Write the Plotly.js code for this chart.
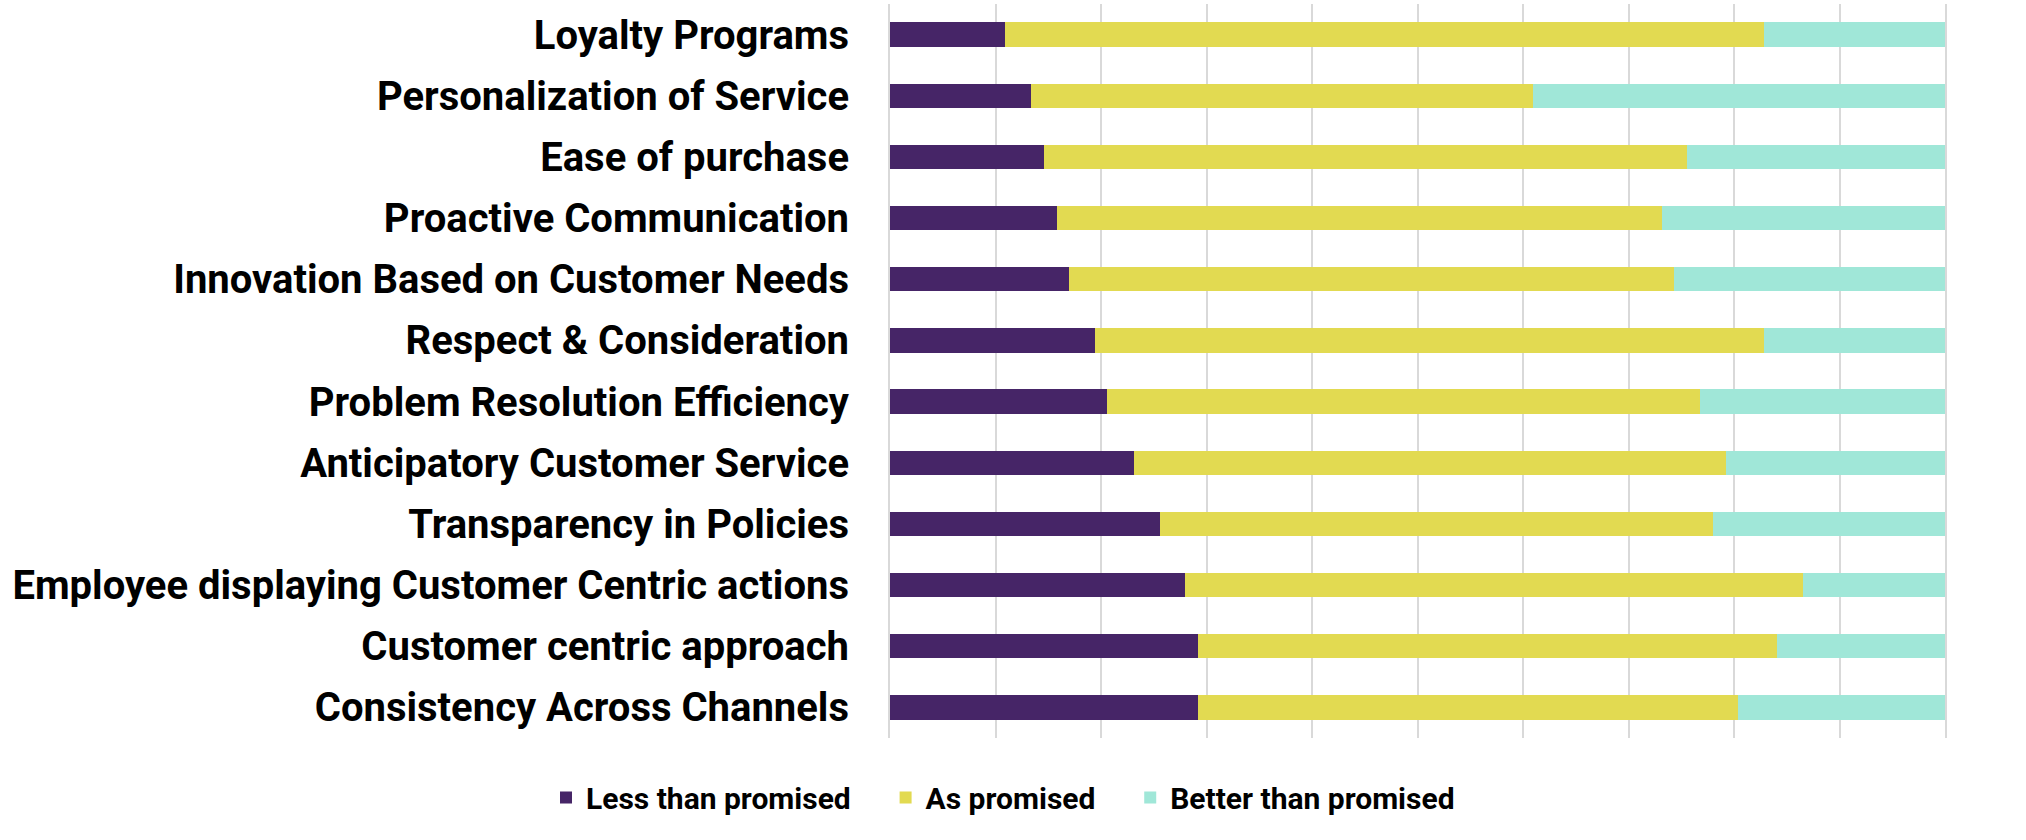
<!DOCTYPE html>
<html>
<head>
<meta charset="utf-8">
<script src="https://cdn.plot.ly/plotly-3.0.1.min.js"></script>
<style>
  html, body { margin: 0; padding: 0; background: #fff; }
  #chart { width: 2026px; height: 840px; }
</style>
</head>
<body>
<div id="chart"></div>
<script>
const categories = [
  'Loyalty Programs',
  'Personalization of Service',
  'Ease of purchase',
  'Proactive Communication',
  'Innovation Based on Customer Needs',
  'Respect & Consideration',
  'Problem Resolution Efficiency',
  'Anticipatory Customer Service',
  'Transparency in Policies',
  'Employee displaying Customer Centric actions',
  'Customer centric approach',
  'Consistency Across Channels'
];

const lessThan = [10.9, 13.4, 14.6, 15.8, 17.0, 19.4, 20.6, 23.1, 25.6, 28.0, 29.2, 29.2];
const asPromised = [71.9, 47.5, 60.9, 57.4, 57.3, 63.4, 56.2, 56.1, 52.4, 58.5, 54.9, 51.2];
const betterThan = [17.2, 39.1, 24.5, 26.8, 25.7, 17.2, 23.2, 20.8, 22.0, 13.5, 15.9, 19.6];

const seriesNames = ['Less than promised', 'As promised', 'Better than promised'];
const seriesColors = ['#462567', '#e2da51', '#a0e7d8'];

// extra room after the first two legend entries
const legendPad = '\u00a0\u00a0\u00a0\u00a0';

function makeTrace(values, i) {
  return {
    type: 'bar',
    orientation: 'h',
    y: categories,
    x: values,
    name: seriesNames[i] + (i < 2 ? legendPad : ''),
    marker: { color: seriesColors[i], line: { width: 0 } },
    hoverinfo: 'x+name'
  };
}

const data = [lessThan, asPromised, betterThan].map(makeTrace);

const layout = {
  width: 2026,
  height: 840,
  barmode: 'stack',
  bargap: 0.6,
  paper_bgcolor: '#fff',
  plot_bgcolor: '#fff',
  margin: { l: 890, r: 81, t: 4, b: 102, autoexpand: false },
  font: { family: 'Roboto, sans-serif', color: '#000' },
  xaxis: {
    range: [0, 100],
    dtick: 10,
    showticklabels: false,
    showgrid: true,
    gridcolor: '#d9d9d9',
    gridwidth: 2,
    zeroline: false,
    showline: false,
    fixedrange: true
  },
  yaxis: {
    autorange: 'reversed',
    showgrid: false,
    zeroline: false,
    showline: true,
    mirror: true,
    linecolor: '#d9d9d9',
    linewidth: 2,
    layer: 'below traces',
    ticks: 'outside',
    ticklen: 31,
    tickcolor: 'rgba(0,0,0,0)',
    tickfont: { family: 'Roboto, sans-serif', size: 40, weight: 'bold', color: '#000' }
  },
  showlegend: true,
  legend: {
    orientation: 'h',
    traceorder: 'normal',
    x: (1003 - 890) / 1055,
    xanchor: 'center',
    y: -0.081,
    yanchor: 'middle',
    font: { family: 'Roboto, sans-serif', size: 30, weight: 'bold', color: '#000' }
  }
};

Plotly.newPlot('chart', data, layout, { displayModeBar: false, staticPlot: true });
</script>
</body>
</html>
